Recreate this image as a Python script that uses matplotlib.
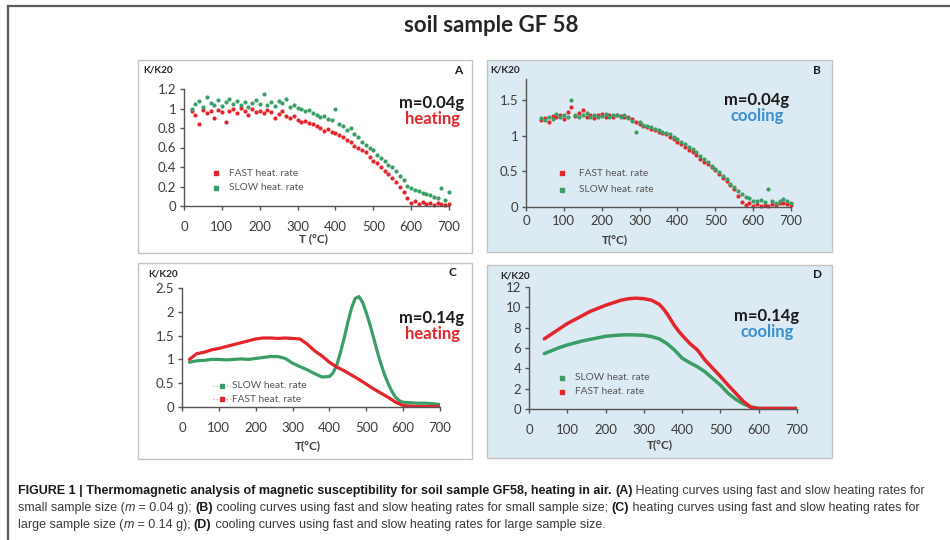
import matplotlib
matplotlib.use("Agg")
import matplotlib.pyplot as plt
from matplotlib.patches import Rectangle
from matplotlib.lines import Line2D
import numpy as np

# ---- data ----
# panel A: heating, m=0.04g
tA = list(range(20, 701, 10))
fastA = [0.97, 0.93, 0.84, 0.98, 0.95, 0.97, 0.90, 0.98, 0.96, 0.86, 0.97, 0.99, 0.95, 1.01, 0.97,
         0.93, 0.99, 0.96, 0.97, 0.95, 0.98, 0.96, 0.90, 0.94, 0.97, 0.92, 0.90, 0.92, 0.88, 0.86,
         0.87, 0.85, 0.84, 0.82, 0.80, 0.77, 0.79, 0.76, 0.75, 0.73, 0.71, 0.68, 0.66, 0.62, 0.60,
         0.57, 0.55, 0.50, 0.46, 0.44, 0.40, 0.36, 0.33, 0.29, 0.25, 0.19, 0.14, 0.08, 0.03, 0.05,
         0.02, 0.04, 0.02, 0.03, 0.01, 0.03, 0.02, 0.01, 0.02]
slowA = [1.00, 1.05, 1.08, 1.02, 1.12, 1.06, 1.04, 1.09, 1.03, 1.07, 1.10, 1.05, 1.08, 1.04, 1.07,
         1.02, 1.06, 1.09, 1.05, 1.15, 1.04, 1.07, 1.03, 1.08, 1.06, 1.10, 1.02, 1.04, 1.01, 0.99,
         0.97, 0.98, 0.95, 0.93, 0.91, 0.92, 0.89, 0.88, 1.00, 0.84, 0.82, 0.78, 0.80, 0.74, 0.71,
         0.66, 0.63, 0.60, 0.57, 0.52, 0.49, 0.46, 0.42, 0.40, 0.36, 0.31, 0.27, 0.21, 0.18, 0.16,
         0.15, 0.13, 0.12, 0.11, 0.09, 0.08, 0.18, 0.06, 0.14]

# panel B: cooling, m=0.04g
tB = list(range(40, 701, 10))
fastB = [1.22, 1.25, 1.20, 1.28, 1.26, 1.30, 1.24, 1.33, 1.40, 1.28, 1.32, 1.36, 1.27, 1.30, 1.25,
         1.29, 1.31, 1.26, 1.29, 1.27, 1.30, 1.28, 1.26, 1.27, 1.24, 1.20, 1.17, 1.14, 1.12, 1.10,
         1.08, 1.06, 1.04, 1.02, 0.99, 0.95, 0.92, 0.88, 0.85, 0.80, 0.77, 0.73, 0.68, 0.63, 0.60,
         0.56, 0.52, 0.47, 0.41, 0.37, 0.31, 0.26, 0.16, 0.07, 0.03, 0.05, 0.02, 0.04, 0.01, 0.03,
         0.02, 0.04, 0.03, 0.05, 0.06, 0.04, 0.03]
slowB = [1.25, 1.22, 1.27, 1.24, 1.31, 1.26, 1.29, 1.27, 1.50, 1.30, 1.26, 1.29, 1.32, 1.27, 1.30,
         1.26, 1.28, 1.31, 1.27, 1.29, 1.30, 1.26, 1.29, 1.25, 1.21, 1.05, 1.19, 1.16, 1.14, 1.12,
         1.10, 1.08, 1.06, 1.04, 1.02, 0.99, 0.96, 0.92, 0.89, 0.85, 0.82, 0.77, 0.72, 0.67, 0.63,
         0.58, 0.54, 0.49, 0.44, 0.39, 0.33, 0.28, 0.23, 0.18, 0.14, 0.12, 0.09, 0.08, 0.10, 0.07,
         0.25, 0.08, 0.06, 0.09, 0.11, 0.08, 0.06]

# panel C: heating, m=0.14g
tC_fast = [20, 40, 60, 80, 100, 120, 140, 160, 180, 200, 220, 240, 260, 280, 300, 320, 340, 360,
           380, 400, 420, 440, 460, 480, 500, 520, 540, 560, 580, 600, 620, 640, 660, 680, 700]
fastC = [1.00, 1.12, 1.15, 1.20, 1.23, 1.27, 1.31, 1.35, 1.39, 1.43, 1.45, 1.45, 1.44, 1.45, 1.44,
         1.43, 1.32, 1.18, 1.07, 0.94, 0.84, 0.76, 0.67, 0.58, 0.48, 0.38, 0.29, 0.20, 0.10, 0.03,
         0.02, 0.01, 0.01, 0.01, 0.01]
tC_slow = [20, 40, 60, 80, 100, 120, 140, 160, 180, 200, 220, 240, 260, 280, 300, 320, 340, 360,
           380, 400, 410, 420, 430, 440, 450, 460, 470, 480, 490, 500, 510, 520, 530, 540, 550,
           560, 570, 580, 590, 600, 620, 640, 660, 680, 700]
slowC = [0.94, 0.97, 0.98, 1.00, 1.00, 0.99, 1.00, 1.01, 1.00, 1.02, 1.04, 1.06, 1.06, 1.02, 0.92,
         0.85, 0.78, 0.70, 0.63, 0.64, 0.72, 0.88, 1.15, 1.45, 1.78, 2.08, 2.28, 2.32, 2.20, 1.98,
         1.73, 1.45, 1.16, 0.90, 0.67, 0.48, 0.32, 0.20, 0.13, 0.10, 0.09, 0.08, 0.08, 0.07, 0.05]

# panel D: cooling, m=0.14g
tD_fast = [40, 60, 80, 100, 120, 140, 160, 180, 200, 220, 240, 260, 280, 300, 320, 340, 350, 360,
           370, 380, 390, 400, 420, 440, 460, 480, 500, 520, 540, 560, 580, 600, 620, 640, 660,
           680, 700]
fastD = [6.9, 7.4, 7.9, 8.4, 8.8, 9.2, 9.6, 9.9, 10.2, 10.45, 10.7, 10.85, 10.9, 10.85, 10.7, 10.3,
         9.9, 9.4, 8.8, 8.2, 7.7, 7.25, 6.45, 5.8, 4.8, 4.0, 3.2, 2.35, 1.55, 0.75, 0.15, 0.05,
         0.05, 0.05, 0.05, 0.05, 0.05]
tD_slow = [40, 60, 80, 100, 120, 140, 160, 180, 200, 220, 240, 260, 280, 300, 320, 340, 360, 380,
           400, 420, 440, 460, 480, 500, 520, 540, 560, 580, 600, 620, 640, 660, 680, 700]
slowD = [5.45, 5.75, 6.05, 6.3, 6.5, 6.7, 6.85, 7.0, 7.15, 7.22, 7.28, 7.3, 7.28, 7.25, 7.12, 6.9,
         6.45, 5.8, 5.0, 4.55, 4.15, 3.65, 3.0, 2.35, 1.55, 0.95, 0.5, 0.2, 0.05, 0.05, 0.05, 0.05,
         0.05, 0.05]

xticks = [0, 100, 200, 300, 400, 500, 600, 700]

RED = "#e3262b"
GREEN = "#3a9e66"
BLUE_BG = "#dceaf3"
TXT = "#3c3c3c"
FONT = ["Lato", "DejaVu Sans"]

W, H = 950, 540
fig = plt.figure(figsize=(W / 100, H / 100), dpi=100)
fig.patch.set_facecolor("white")


def fx(x):
    return x / W


def fy(y):
    return 1 - y / H


# outer frame (top and left lines)
fig.add_artist(Line2D([fx(8), 1.0], [fy(6), fy(6)], color="#5a5a5a", lw=1.6))
fig.add_artist(Line2D([fx(8), fx(8)], [fy(6), 0.0], color="#5a5a5a", lw=1.6))

fig.text(fx(491), fy(26), "soil sample GF 58", ha="center", va="center",
         fontsize=16, fontweight="bold", family=FONT, color="#262626")

# panel boxes (behind the axes)
boxes = [(138, 60, 472, 253, "white"), (487, 60, 832, 252, BLUE_BG),
         (138, 263, 472, 459, "white"), (487, 265, 832, 458, BLUE_BG)]
for x0, y0, x1, y1, c in boxes:
    fig.add_artist(Rectangle((fx(x0), fy(y1)), fx(x1 - x0), (y1 - y0) / H,
                             facecolor=c, edgecolor="#c4c4c4", lw=1.0, zorder=-1))


def make_ax(x0, x1, y0, y1, ymax, yticks, ylabels, xpad):
    # x0,x1: px of T=0 and T=700 ; y0: px of value 0 ; y1: px of ymax
    ax = fig.add_axes([fx(x0), fy(y0), fx(x1 - x0), (y0 - y1) / H])
    ax.patch.set_alpha(0)
    ax.set_xlim(0, 700)
    ax.set_ylim(0, ymax)
    ax.spines[["top", "right"]].set_visible(False)
    for s in ["left", "bottom"]:
        ax.spines[s].set_color("#555555")
        ax.spines[s].set_linewidth(1.0)
    ax.set_xticks(xticks)
    ax.set_xticklabels([str(v) for v in xticks])
    ax.set_yticks(yticks)
    ax.set_yticklabels(ylabels)
    ax.tick_params(direction="out", length=3, width=1, color="#555555",
                   labelsize=9.5, labelcolor=TXT)
    ax.tick_params(axis="x", pad=xpad)
    ax.tick_params(axis="y", pad=2.5)
    for lab in ax.get_xticklabels() + ax.get_yticklabels():
        lab.set_family(FONT)
    return ax


def xlabel(ax, text, x, y, x0, x1, y0, y1):
    ax.set_xlabel(text, fontsize=8.5, fontweight="bold", family=FONT, color=TXT)
    ax.xaxis.label.set_verticalalignment("center")
    ax.xaxis.set_label_coords((x - x0) / (x1 - x0), -(y - y0) / (y0 - y1))


def legend(items, mx, tx, ys, line=False):
    for (label, col), y in zip(items, ys):
        if line:
            fig.add_artist(Line2D([fx(mx - 9), fx(mx + 9)], [fy(y), fy(y)], color=col,
                                  lw=0.8, ls=(0, (1, 2)), alpha=0.6))
        fig.add_artist(Line2D([fx(mx)], [fy(y)], color=col, marker="s", ms=2.5, lw=0))
        fig.text(fx(tx), fy(y), label, ha="left", va="center", fontsize=7.3,
                 family=FONT, color="#555555")


def labels(kx, ky, letter, lx, ly, mass, kind, kcol, cx, cy):
    fig.text(fx(kx), fy(ky), "K/K20", ha="left", va="center", fontsize=7.2,
             fontweight="bold", family=FONT, color="#262626")
    fig.text(fx(lx), fy(ly), letter, ha="center", va="center", fontsize=8.5,
             fontweight="bold", family=FONT, color="#1a1a1a")
    fig.text(fx(cx), fy(cy), mass, ha="center", va="center", fontsize=12,
             fontweight="bold", family=FONT, color="#1a1a1a")
    fig.text(fx(cx), fy(cy + 16), kind, ha="center", va="center", fontsize=12,
             fontweight="bold", family=FONT, color=kcol)


# ---- A ----
axA = make_ax(184, 449, 206, 89, 1.2, [0, 0.2, 0.4, 0.6, 0.8, 1.0, 1.2],
              ["0", "0.2", "0.4", "0.6", "0.8", "1", "1.2"], 8)
axA.scatter(tA, fastA, s=9, color=RED, lw=0, clip_on=False)
axA.scatter(tA, slowA, s=9, color=GREEN, lw=0, clip_on=False)
xlabel(axA, "T (°C)", 313, 239, 184, 449, 206, 89)
labels(143, 70, "A", 458, 70, "m=0.04g", "heating", RED, 432, 103)
legend([("FAST heat. rate", RED), ("SLOW heat. rate", GREEN)], 216, 229, [173, 188])

# ---- B ----
axB = make_ax(526, 791, 207, 79, 1.8, [0, 0.5, 1.0, 1.5], ["0", "0.5", "1", "1.5"], 3)
axB.scatter(tB, fastB, s=9, color=RED, lw=0, clip_on=False)
axB.scatter(tB, slowB, s=9, color=GREEN, lw=0, clip_on=False)
xlabel(axB, "T(°C)", 615, 240, 526, 791, 207, 79)
labels(490, 70, "B", 817, 70, "m=0.04g", "cooling", "#3a8fd0", 757, 100)
legend([("FAST heat. rate", RED), ("SLOW heat. rate", GREEN)], 562, 579, [173, 190])

# ---- C ----
axC = make_ax(182, 440, 407, 288, 2.5, [0, 0.5, 1.0, 1.5, 2.0, 2.5],
              ["0", "0.5", "1", "1.5", "2", "2.5"], 8)
axC.plot(tC_slow, slowC, color=GREEN, lw=2.3, solid_capstyle="round")
axC.plot(tC_fast, fastC, color=RED, lw=2.3, solid_capstyle="round")
xlabel(axC, "T(°C)", 308, 446, 182, 440, 407, 288)
labels(148, 274, "C", 452, 273, "m=0.14g", "heating", RED, 432, 318)
legend([("SLOW heat. rate", GREEN), ("FAST heat. rate", RED)], 222, 232, [386, 399], line=True)

# ---- D ----
axD = make_ax(529, 797, 409, 287, 12, [0, 2, 4, 6, 8, 10, 12],
              ["0", "2", "4", "6", "8", "10", "12"], 8)
axD.plot(tD_slow, slowD, color=GREEN, lw=2.5, solid_capstyle="round")
axD.plot(tD_fast, fastD, color=RED, lw=2.5, solid_capstyle="round")
xlabel(axD, "T(°C)", 660, 445, 529, 797, 409, 287)
labels(500, 276, "D", 817, 275, "m=0.14g", "cooling", "#3a8fd0", 767, 316)
legend([("SLOW heat. rate", GREEN), ("FAST heat. rate", RED)], 562, 575, [378, 392])

# ---- caption ----
CAP = ["Liberation Sans Narrow", "Liberation Sans", "DejaVu Sans"]
cap_lines = [
    [("FIGURE 1 | Thermomagnetic analysis of magnetic susceptibility for soil sample GF58, heating in air. ", "bold", "normal"),
     ("(A)", "bold", "normal"),
     (" Heating curves using fast and slow heating rates for", "normal", "normal")],
    [("small sample size (", "normal", "normal"), ("m", "normal", "italic"),
     (" = 0.04 g); ", "normal", "normal"), ("(B)", "bold", "normal"),
     (" cooling curves using fast and slow heating rates for small sample size; ", "normal", "normal"),
     ("(C)", "bold", "normal"),
     (" heating curves using fast and slow heating rates for", "normal", "normal")],
    [("large sample size (", "normal", "normal"), ("m", "normal", "italic"),
     (" = 0.14 g); ", "normal", "normal"), ("(D)", "bold", "normal"),
     (" cooling curves using fast and slow heating rates for large sample size.", "normal", "normal")],
]
renderer = fig.canvas.get_renderer()
for i, pieces in enumerate(cap_lines):
    x = 18
    y = 494 + i * 17
    for txt, wt, st in pieces:
        t = fig.text(fx(x), fy(y), txt, ha="left", va="baseline", fontsize=9,
                     fontweight=wt, style=st, family=CAP,
                     color="#1a1a1a" if wt == "bold" else "#3a3a3a")
        x += t.get_window_extent(renderer).width

fig.savefig("out.png", dpi=100)
